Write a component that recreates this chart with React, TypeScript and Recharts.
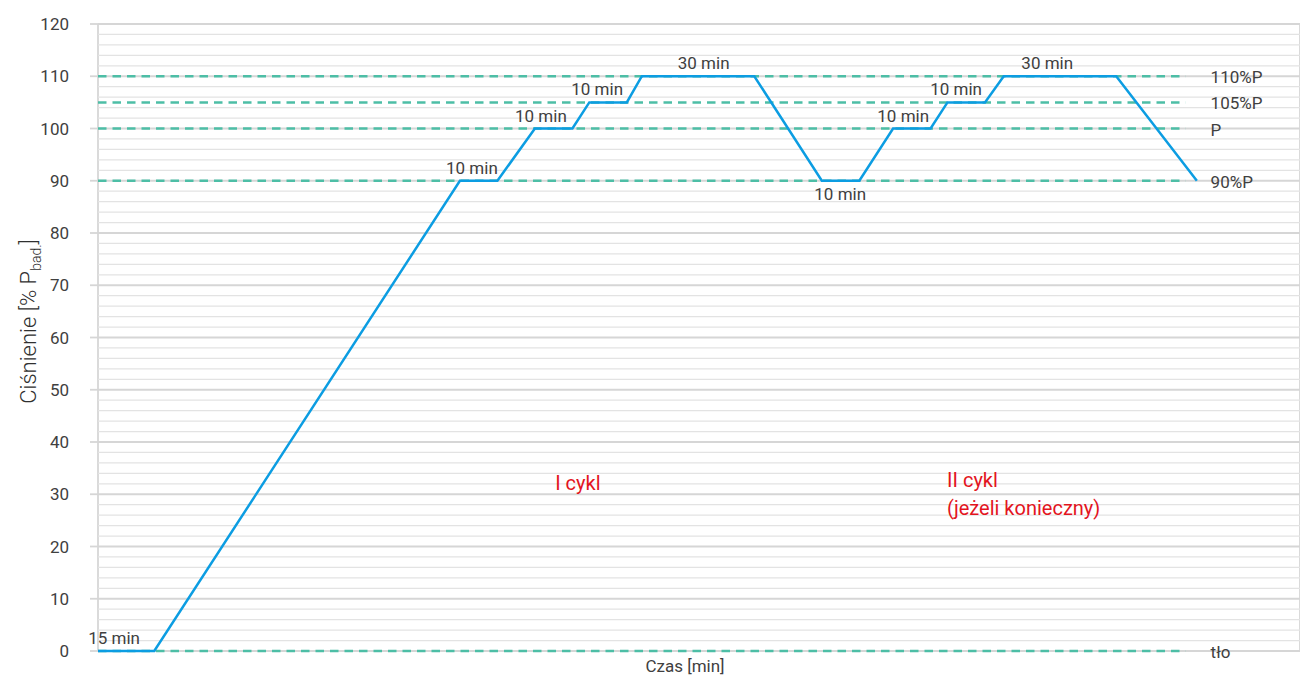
import React from 'react';
import {
  ComposedChart,
  Line,
  XAxis,
  YAxis,
  CartesianGrid,
  ReferenceLine,
  ReferenceDot,
} from 'recharts';

// Pressure test profile: time [min] vs pressure [% P_bad.]
const timeMin = [0, 15, 96.5, 106.5, 116.5, 126.5, 131, 141, 145, 175, 193, 203, 212, 222, 226.5, 236.5, 241.5, 271.5, 293];
const pressurePct = [0, 0, 90, 90, 100, 100, 105, 105, 110, 110, 90, 90, 100, 100, 105, 105, 110, 110, 90];

// Axis ticks
const xGridTicks = [0, 50, 100, 150, 200, 250, 300];
const yMajorTicks = [0, 10, 20, 30, 40, 50, 60, 70, 80, 90, 100, 110, 120];
const yMinorTicks = yMajorTicks.slice(0, -1).flatMap((v) => [v + 2, v + 4, v + 6, v + 8]);

// Pressure levels (dashed guide lines) and their names
const levelValues = [110, 105, 100, 90, 0];
const levelNames = ['110%P', '105%P', 'P', '90%P', 'tło'];
const levelEndMin = 290;

// Hold-time annotations
const holdTexts = ['15 min', '10 min', '10 min', '10 min', '30 min', '10 min', '10 min', '10 min', '30 min'];
const holdAtMin = [4.3, 99.7, 118.1, 133.1, 161.5, 197.9, 214.7, 228.8, 253.1];
const holdAtPct = [0, 90, 100, 105, 110, 90, 100, 105, 110];
const holdBelow = [false, false, false, false, false, true, false, false, false];

// Cycle captions
const cycleTexts = ['I cykl', 'II cykl', '(jeżeli konieczny)'];
const cycleAtMin = [121.9, 226.4, 226.4];
const cycleAtPct = [30.9, 31.3, 26.1];

const chartData = timeMin.map((t, i) => ({ t, p: pressurePct[i] }));

const FONT = 'Roboto, "Noto Sans", sans-serif';
const TEXT = '#404040';
const GRID_MAJOR = '#d6d6d6';
const GRID_MINOR = '#e3e3e3';
const LEVEL = '#4dbea6';
const LINE = '#0c9de2';
const RED = '#e3141e';

const YTick = (props: any) => {
  const { x, y, payload } = props;
  return (
    <text x={x} y={y + 6} textAnchor="end" fontFamily={FONT} fontSize={17} fill={TEXT}>
      {payload.value}
    </text>
  );
};

const YTitle = (props: any) => {
  const { viewBox } = props;
  const cx = viewBox.x + 28;
  const cy = viewBox.y + viewBox.height / 2 - 16;
  return (
    <text
      x={cx}
      y={cy}
      transform={`rotate(-90 ${cx} ${cy})`}
      textAnchor="middle"
      fontFamily={FONT}
      fontSize={22}
      fontWeight={300}
      fill="#303030"
    >
      Ciśnienie [% P
      <tspan fontSize={14} dy={5}>bad.</tspan>
      <tspan dy={-5}>]</tspan>
    </text>
  );
};

const XTitle = (props: any) => {
  const { viewBox } = props;
  return (
    <text
      x={viewBox.x + viewBox.width / 2 - 14}
      y={viewBox.y + 21}
      textAnchor="middle"
      fontFamily={FONT}
      fontSize={17}
      fill={TEXT}
    >
      Czas [min]
    </text>
  );
};

export default function App() {
  return (
    <div style={{ position: 'absolute', left: 0, top: 0, width: 1300, height: 677, background: '#fff' }}>
      <ComposedChart
        width={1300}
        height={677}
        data={chartData}
        margin={{ top: 24, right: 0, bottom: 0, left: 8 }}
      >
        <CartesianGrid stroke={GRID_MAJOR} strokeWidth={1.8} />
        <XAxis
          dataKey="t"
          type="number"
          domain={[0, 320.5]}
          ticks={xGridTicks}
          tick={false}
          tickLine={false}
          axisLine={false}
          height={26}
          label={<XTitle />}
        />
        <YAxis
          type="number"
          domain={[0, 120]}
          ticks={yMajorTicks}
          width={90}
          axisLine={false}
          tickSize={8}
          tickMargin={21}
          tickLine={{ stroke: GRID_MAJOR, strokeWidth: 1.8 }}
          tick={<YTick />}
          label={<YTitle />}
        />
        {/* minor horizontal grid every 2 % */}
        {yMinorTicks.map((v) => (
          <ReferenceLine key={`minor-${v}`} y={v} stroke={GRID_MINOR} strokeWidth={1.2} />
        ))}
        {levelValues.map((v) => (
          <ReferenceLine
            key={`lvl-${v}`}
            segment={[{ x: 0, y: v }, { x: levelEndMin, y: v }]}
            stroke={LEVEL}
            strokeWidth={2.5}
            strokeDasharray="8.5 6"
          />
        ))}
        <Line
          type="linear"
          dataKey="p"
          stroke={LINE}
          strokeWidth={2.5}
          dot={false}
          activeDot={false}
          isAnimationActive={false}
        />
        {levelValues.map((v, i) => (
          <ReferenceDot
            key={`lvlname-${v}`}
            x={levelEndMin}
            y={v}
            r={0}
            shape={(p: any) => (
              <text x={p.cx + 25} y={p.cy + 7} textAnchor="start" fontFamily={FONT} fontSize={17} fill={TEXT}>
                {levelNames[i]}
              </text>
            )}
          />
        ))}
        {holdTexts.map((txt, i) => (
          <ReferenceDot
            key={`hold-${i}`}
            x={holdAtMin[i]}
            y={holdAtPct[i]}
            r={0}
            shape={(p: any) => (
              <text
                x={p.cx}
                y={holdBelow[i] ? p.cy + 19 : p.cy - 7}
                textAnchor="middle"
                fontFamily={FONT}
                fontSize={17}
                fill={TEXT}
              >
                {txt}
              </text>
            )}
          />
        ))}
        {cycleTexts.map((txt, i) => (
          <ReferenceDot
            key={`cycle-${i}`}
            x={cycleAtMin[i]}
            y={cycleAtPct[i]}
            r={0}
            shape={(p: any) => (
              <text x={p.cx} y={p.cy} textAnchor="start" fontFamily={FONT} fontSize={20} fill={RED}>
                {txt}
              </text>
            )}
          />
        ))}
      </ComposedChart>
    </div>
  );
}
